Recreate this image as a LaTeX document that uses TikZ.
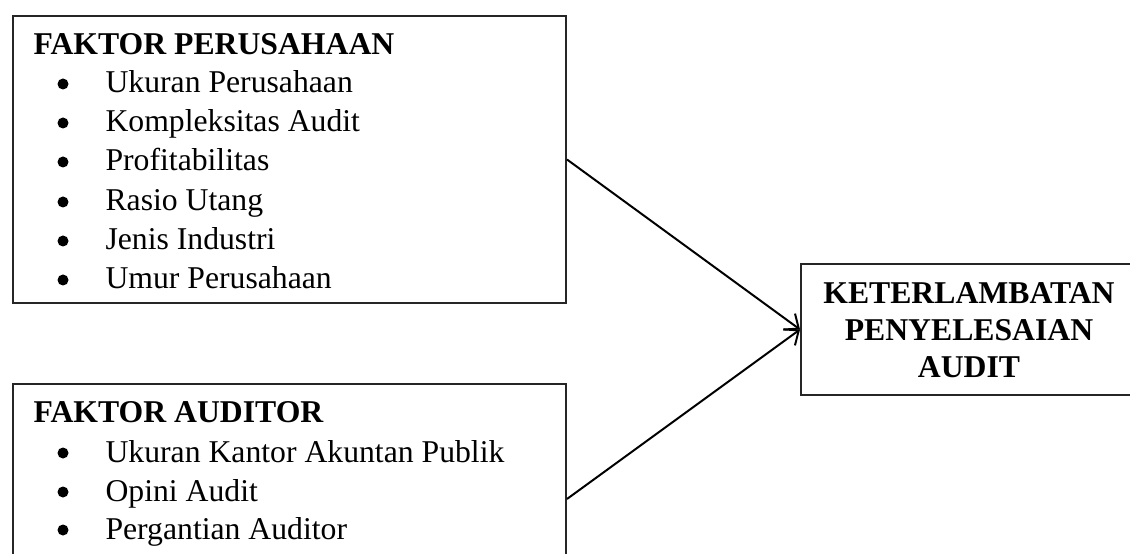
\documentclass[tikz,border=0pt]{standalone}
\usepackage{fontspec}
\setmainfont{Liberation Serif}
\usetikzlibrary{arrows.meta}
\def\pxu{0.3785pt}
\tikzset{
  box/.style={draw=black!85,line width=.75pt,anchor=north west,inner sep=0pt},
  head/.style={anchor=base west,inner sep=0pt,font=\fontsize{12}{14}\selectfont\bfseries},
  entry/.style={anchor=base west,inner sep=0pt},
  link/.style={line width=.75pt,-{Straight Barb[length=4.5pt,width=7.5pt]}}
}

\begin{document}
\begin{tikzpicture}[x=\pxu,y=-\pxu,font=\fontsize{12}{14}\selectfont]
  \useasboundingbox (0,0) rectangle (1130,554);
  \clip (0,0) rectangle (1130,554);
  % boxes
  \node[box,minimum width=553*\pxu,minimum height=287*\pxu] (firm) at (12,15) {};
  \node[box,minimum width=553*\pxu,minimum height=230*\pxu] (aud) at (12,383) {};
  \node[box,minimum width=342*\pxu,minimum height=131*\pxu] (delay) at (800,263) {};
  % company factors
  \node[head] (firmT) at (33,55) {FAKTOR PERUSAHAAN};
  \fill (63,84) circle (5.5);  \node[entry] (f1) at (105,93) {Ukuran Perusahaan};
  \fill (63,123) circle (5.5); \node[entry] (f2) at (105,132) {Kompleksitas Audit};
  \fill (63,162) circle (5.5); \node[entry] (f3) at (105,171) {Profitabilitas};
  \fill (63,202) circle (5.5); \node[entry] (f4) at (105,211) {Rasio Utang};
  \fill (63,241) circle (5.5); \node[entry] (f5) at (105,250) {Jenis Industri};
  \fill (63,280) circle (5.5); \node[entry] (f6) at (105,289) {Umur Perusahaan};
  % auditor factors
  \node[head] (audT) at (33,422) {FAKTOR AUDITOR};
  \fill (63,453) circle (5.5); \node[entry] (a1) at (105,462) {Ukuran Kantor Akuntan Publik};
  \fill (63,492) circle (5.5); \node[entry] (a2) at (105,501) {Opini Audit};
  \fill (63,530) circle (5.5); \node[entry] (a3) at (105,539) {Pergantian Auditor};
  % outcome
  \node[align=center,inner sep=0pt,font=\fontsize{12}{14}\selectfont\bfseries] (delayT) at (969,330)
    {KETERLAMBATAN\\PENYELESAIAN\\AUDIT};
  \draw[link] (firm.east) -- (delay.west);
  \draw[link] (aud.east) -- (delay.west);
\end{tikzpicture}
\end{document}
